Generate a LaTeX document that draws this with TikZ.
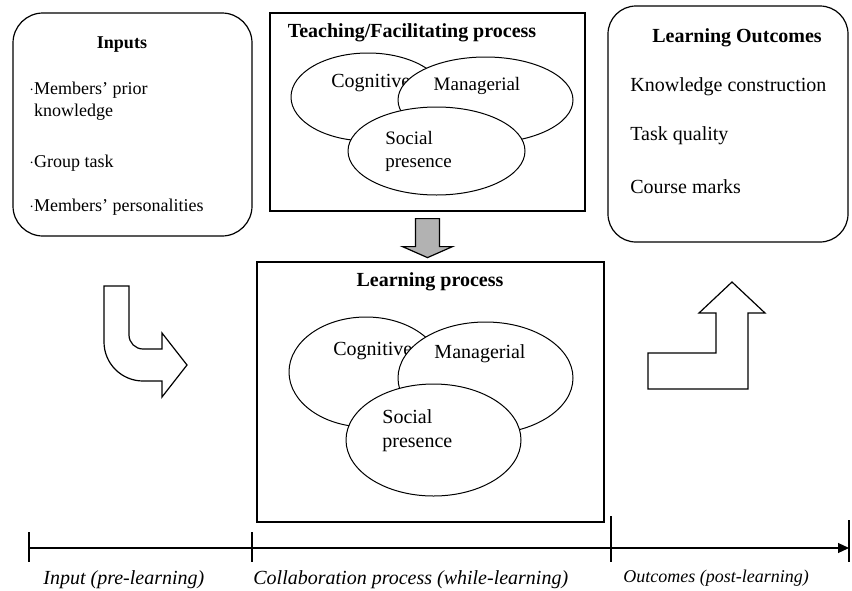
\documentclass[tikz,border=0pt]{standalone}
\usepackage{fontspec}
\setmainfont{Liberation Serif}
\usetikzlibrary{arrows.meta,shapes.geometric}

\tikzset{
  roundbox/.style={draw, rounded corners=15pt, line width=0.6pt},
  procbox/.style={draw, line width=0.6pt},
  blob/.style={draw, ellipse, fill=white, inner sep=0pt, line width=0.5pt},
  blockarrow/.style={draw, line width=0.6pt, line join=miter},
  txt/.style={anchor=west, inner sep=0pt, align=left},
  phase/.style={font=\itshape, anchor=west, inner sep=0pt},
}
\newcommand{\itemdot}{{\scriptsize\textperiodcentered}}

\begin{document}
\begin{tikzpicture}[x=0.5pt, y=-0.5pt]
    \useasboundingbox (0,0) rectangle (852,590);

    % Inputs
    \node[roundbox, minimum width=119.5pt, minimum height=111.5pt] (inbox) at (132.5,124.5) {};
    \node[font=\small\bfseries] (intitle) at (122,45) {Inputs};
    \node[txt, font=\small] (inprior) at (29,101.5) {\itemdot Members' prior\\\phantom{\itemdot}knowledge};
    \node[txt, font=\small] (intask) at (29,163) {\itemdot Group task};
    \node[txt, font=\small] (inpers) at (29,207) {\itemdot Members' personalities};

    % Teaching/Facilitating process
    \node[procbox, minimum width=157.5pt, minimum height=99pt] (teach) at (427.5,112) {};
    \node[font=\bfseries] (teachtitle) at (412,33) {Teaching/Facilitating process};
    \node[blob, minimum width=77pt, minimum height=44pt] (tcog) at (368,97) {};
    \node[txt] (tcoglab) at (331,83) {Cognitive};
    \node[blob, minimum width=87.5pt, minimum height=43pt] (tman) at (485.5,100) {};
    \node[font=\fontsize{9.5}{11.5}\selectfont] (tmanlab) at (477,86) {Managerial};
    \node[blob, minimum width=88.5pt, minimum height=44pt] (tsoc) at (436.5,151) {};
    \node[txt, font=\fontsize{9.5}{11.5}\selectfont] (tsoclab) at (385,151) {Social\\presence};

    % Gray arrow down
    \draw[blockarrow, fill=gray!60, shift={(teach.south)}]
        (-12,7) -- (12,7) -- (12,35) -- (25,35) -- (0,46) -- (-25,35) -- (-12,35) -- cycle;

    % Learning process
    \node[procbox, minimum width=173.5pt, minimum height=130pt] (learn) at (430.5,392) {};
    \node[font=\bfseries] (learntitle) at (430,282) {Learning process};
    \node[blob, minimum width=77pt, minimum height=55pt] (lcog) at (366,372) {};
    \node[txt] (lcoglab) at (333,351) {Cognitive};
    \node[blob, minimum width=87.5pt, minimum height=56pt] (lman) at (485.5,378) {};
    \node (lmanlab) at (480,354) {Managerial};
    \node[blob, minimum width=87.5pt, minimum height=56pt] (lsoc) at (433.5,440) {};
    \node[txt] (lsoclab) at (382,430.5) {Social\\presence};

    % Learning Outcomes
    \node[roundbox, rounded corners=14pt, minimum width=120pt, minimum height=118pt] (outbox) at (728,124) {};
    \node[font=\bfseries] (outtitle) at (737,38) {Learning Outcomes};
    \node[txt] (outknow) at (630,87) {Knowledge construction};
    \node[txt] (outtask) at (630,136) {Task quality};
    \node[txt] (outmark) at (630,187) {Course marks};

    % Block arrows
    \draw[blockarrow] (104,286) -- (104,342) .. controls (104,363.5) and (121.5,381) .. (143,381)
        -- (162,381) -- (162,397) -- (187,365) -- (162,333) -- (162,349) -- (143,349)
        .. controls (135.3,349) and (129,342.7) .. (129,335) -- (129,286) -- cycle;
    \draw[blockarrow] (648,389) -- (648,353) -- (716,353) -- (716,313) -- (699,313) -- (732,282)
        -- (765,313) -- (748,313) -- (748,389) -- cycle;

    % Time line
    \coordinate (t0) at (29,548);
    \coordinate (t1) at (252,548);
    \coordinate (t2) at (611,548);
    \coordinate (t3) at (849,548);
    \draw[line width=0.6pt, -{Triangle[length=5.5pt,width=5pt]}] (t0) -- (t3);
    \foreach \t/\h in {t0/8pt, t1/8pt, t2/16pt, t3/14pt}
        \draw[line width=0.6pt] ([yshift=\h]\t) -- ([yshift=-7pt]\t);

    % Phase labels
    \node[phase] (ph1) at (43,580) {Input (pre-learning)};
    \node[phase] (ph2) at (253,580) {Collaboration process (while-learning)};
    \node[phase, font=\small\itshape] (ph3) at (623,578) {Outcomes (post-learning)};

\end{tikzpicture}
\end{document}
